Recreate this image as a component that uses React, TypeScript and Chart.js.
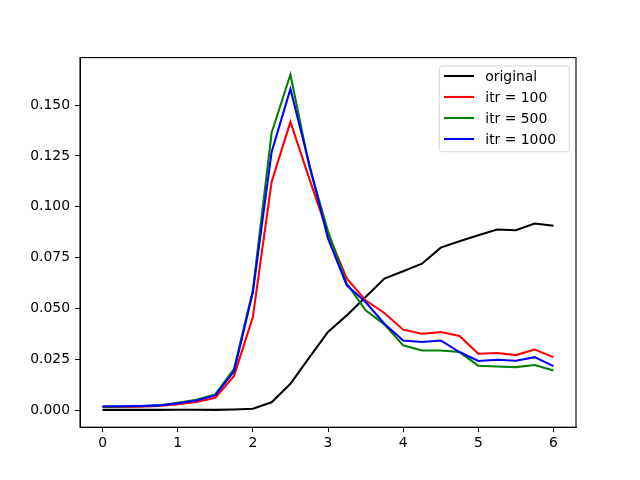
import React, { useEffect, useRef } from "react";
import { Chart, registerables } from "chart.js";

Chart.register(...registerables);

const xValues = [0, 0.25, 0.5, 0.75, 1, 1.25, 1.5, 1.75, 2, 2.25, 2.5, 2.75, 3, 3.25, 3.5, 3.75, 4, 4.25, 4.5, 4.75, 5, 5.25, 5.5, 5.75, 6];

const original = [0.0003, 0.0003, 0.0003, 0.0003, 0.0004, 0.0004, 0.0003, 0.0005, 0.0009, 0.0040, 0.0131, 0.0260, 0.0386, 0.0467, 0.0557, 0.0648, 0.0684, 0.0721, 0.0800, 0.0831, 0.0861, 0.0889, 0.0885, 0.0918, 0.0907];
const itr100 = [0.0017, 0.0018, 0.0019, 0.0022, 0.0031, 0.0042, 0.0062, 0.0170, 0.0459, 0.1123, 0.1417, 0.1140, 0.0870, 0.0648, 0.0541, 0.0479, 0.0397, 0.0377, 0.0385, 0.0366, 0.0279, 0.0282, 0.0272, 0.0299, 0.0262];
const itr500 = [0.0019, 0.0020, 0.0021, 0.0025, 0.0038, 0.0053, 0.0079, 0.0205, 0.0590, 0.1364, 0.1650, 0.1200, 0.0880, 0.0623, 0.0492, 0.0423, 0.0320, 0.0295, 0.0295, 0.0287, 0.0220, 0.0216, 0.0213, 0.0223, 0.0197];
const itr1000 = [0.0020, 0.0021, 0.0022, 0.0025, 0.0036, 0.0049, 0.0074, 0.0193, 0.0580, 0.1270, 0.1579, 0.1210, 0.0845, 0.0615, 0.0533, 0.0426, 0.0344, 0.0336, 0.0344, 0.0287, 0.0243, 0.0249, 0.0244, 0.0262, 0.0218];

const seriesLabels = ["original", "itr = 100", "itr = 500", "itr = 1000"];
const seriesColors = ["#000000", "#ff0000", "#008000", "#0000ff"];
const seriesValues = [original, itr100, itr500, itr1000];

const xTicks = [0, 1, 2, 3, 4, 5, 6];
const yTicks = [0, 0.025, 0.05, 0.075, 0.1, 0.125, 0.15];

const FONT = "'DejaVu Sans', sans-serif";

const framePlugin = {
  id: "frameAndLegend",
  afterDraw(chart: any) {
    const ctx = chart.ctx;
    const a = chart.chartArea;
    ctx.save();
    // axes frame (all four spines)
    ctx.strokeStyle = "#000";
    ctx.lineWidth = 1.1;
    ctx.strokeRect(a.left, a.top, a.right - a.left, a.bottom - a.top);

    // legend box (upper right, inside the axes)
    const boxW = 130;
    const boxH = 85.7;
    const bx = a.right - 6.7 - boxW;
    const by = a.top + 8.4;
    const r = 3;
    ctx.beginPath();
    ctx.moveTo(bx + r, by);
    ctx.lineTo(bx + boxW - r, by);
    ctx.quadraticCurveTo(bx + boxW, by, bx + boxW, by + r);
    ctx.lineTo(bx + boxW, by + boxH - r);
    ctx.quadraticCurveTo(bx + boxW, by + boxH, bx + boxW - r, by + boxH);
    ctx.lineTo(bx + r, by + boxH);
    ctx.quadraticCurveTo(bx, by + boxH, bx, by + boxH - r);
    ctx.lineTo(bx, by + r);
    ctx.quadraticCurveTo(bx, by, bx + r, by);
    ctx.closePath();
    ctx.fillStyle = "rgba(255,255,255,0.8)";
    ctx.fill();
    ctx.strokeStyle = "#d6d6d6";
    ctx.lineWidth = 1;
    ctx.stroke();

    ctx.font = `13.9px ${FONT}`;
    ctx.textBaseline = "middle";
    ctx.textAlign = "left";
    for (let i = 0; i < seriesLabels.length; i++) {
      const yy = by + 10 + i * 21;
      ctx.beginPath();
      ctx.strokeStyle = seriesColors[i];
      ctx.lineWidth = 2.08;
      ctx.moveTo(bx + 4.7, yy);
      ctx.lineTo(bx + 34.7, yy);
      ctx.stroke();
      ctx.fillStyle = "#000";
      ctx.fillText(seriesLabels[i], bx + 46, yy + 1);
    }
    ctx.restore();
  },
};

export default function App() {
  const canvasRef = useRef<HTMLCanvasElement | null>(null);

  useEffect(() => {
    const canvas = canvasRef.current;
    if (!canvas) return;
    const datasets = seriesValues.map((vals, i) => ({
      label: seriesLabels[i],
      data: xValues.map((x, j) => ({ x, y: vals[j] })),
      borderColor: seriesColors[i],
      backgroundColor: seriesColors[i],
      borderWidth: 2.08,
      pointRadius: 0,
      tension: 0,
      fill: false,
      order: seriesValues.length - 1 - i,
    }));

    const chart = new Chart(canvas, {
      type: "line",
      data: { datasets },
      options: {
        animation: false,
        responsive: false,
        layout: { padding: { top: 57.6, right: 64, left: 0, bottom: 0 } },
        plugins: {
          legend: { display: false },
          tooltip: { enabled: false },
        },
        scales: {
          x: {
            type: "linear",
            min: -0.3,
            max: 6.3,
            grid: { drawOnChartArea: false, drawTicks: true, tickLength: 5, color: "#000", tickWidth: 1 },
            border: { display: true, color: "#000" },
            ticks: {
              color: "#000",
              font: { family: FONT, size: 13.9 },
              padding: 3,
              maxRotation: 0,
              callback: (v: any) => String(v),
            },
            afterBuildTicks: (scale: any) => {
              scale.ticks = xTicks.map((v) => ({ value: v }));
            },
            afterFit: (scale: any) => {
              scale.height = 52.8;
            },
          },
          y: {
            type: "linear",
            min: -0.0082,
            max: 0.1733,
            grid: { drawOnChartArea: false, drawTicks: true, tickLength: 5, color: "#000", tickWidth: 1 },
            border: { display: true, color: "#000" },
            ticks: {
              color: "#000",
              font: { family: FONT, size: 13.9 },
              padding: 5,
              callback: (v: any) => Number(v).toFixed(3),
            },
            afterBuildTicks: (scale: any) => {
              scale.ticks = yTicks.map((v) => ({ value: v }));
            },
            afterFit: (scale: any) => {
              scale.width = 80;
            },
          },
        },
      },
      plugins: [framePlugin],
    });
    return () => chart.destroy();
  }, []);

  return (
    <div style={{ position: "absolute", left: 0, top: 0, width: 640, height: 480, background: "#fff" }}>
      <canvas ref={canvasRef} width={640} height={480} style={{ width: 640, height: 480 }} />
    </div>
  );
}
